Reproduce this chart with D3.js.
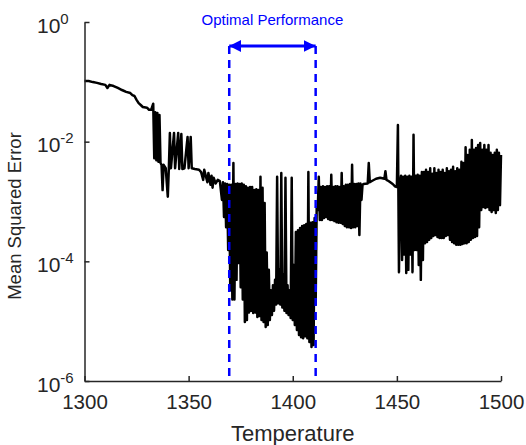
<!DOCTYPE html>
<html>
<head>
<meta charset="utf-8">
<script src="https://cdn.jsdelivr.net/npm/d3@7"></script>
<style>
  body { margin: 0; background: #fff; }
  svg text { font-family: "Liberation Sans", Arial, Helvetica, sans-serif; }
</style>
</head>
<body>
<div id="chart"></div>
<script>
// temperature / mean squared error
var temperature = [
  1300,1302,1304,1306,1308,1310,1311,1312,1314,1316,1318,1320,1322,1323,1324,1325,1326,1327,1328,1330,1331,1332,1333,1333.5,1334,1334.5,1335,1335.5,1336,1336.5,
  1337,1337.5,1338,1339,1340,1340.5,1341,1341.5,1343,1343.5,1345,1345.5,1346.5,1347,1348,1349.5,1350,1351,1351.5,
  1353,1355,1356,1357,1357.5,1358,1359,1359.5,1360.5,1361,1361.5,1362,1363,1364,1365,1366,1366.5,1367,1367.5,1368,1368.5,
  1369,1369.5,1370,1370.5,1371,1371.5,1372,1372.5,1373,1373.5,1374,1374.5,1375,1375.5,1376,1376.5,1377,1377.5,1378,1378.5,
  1379,1379.5,1380,1380.5,1381,1381.5,1382,1382.5,1383,1383.5,1384,1384.5,1385,1385.5,1386,1386.5,1387,1387.5,1388,1388.5,
  1389,1389.5,1390,1390.5,1391,1391.5,1392,1392.5,1393,1393.5,1394,1394.5,1395,1395.5,1396,1396.5,1397,1397.5,1398,1398.5,
  1399,1399.5,1400,1400.5,1401,1401.5,1402,1402.5,1403,1403.5,1404,1404.5,1405,1405.5,1406,1406.5,1407,1407.5,1408,1408.5,
  1409,1409.5,1410,1410.5,1411,1411.5,
  1412,1412.5,1413,1413.5,1414,1414.5,1415,1415.5,1416,1416.5,1417,1417.5,1418,1418.5,1419,1419.5,1420,1420.5,1421,1421.5,
  1422,1422.5,1423,1423.5,1424,1424.5,1425,1425.5,1426,1426.5,1427,1427.5,1428,1428.5,1429,1429.5,1430,1430.5,1431,1431.5,
  1432,1432.5,1433,1433.5,
  1434,1436,1436.5,1437,1438,1440,1442,1444,1444.5,1445,1446,1448,1449,1450,1450.5,1451,1451.5,
  1452,1452.5,1453,1453.5,1454,1454.5,1455,1455.5,1456,1456.5,1457,1457.5,1458,1458.5,1459,1459.5,1460,1460.5,1461,1461.5,
  1462,1462.5,1463,1463.5,1464,1464.5,1465,1465.5,1466,1466.5,1467,1467.5,1468,1468.5,1469,1469.5,1470,1470.5,1471,1471.5,
  1472,1472.5,1473,1473.5,1474,1474.5,1475,1475.5,1476,1476.5,1477,1477.5,1478,1478.5,1479,1479.5,1480,1480.5,1481,1481.5,
  1482,1482.5,1483,1483.5,1484,1484.5,1485,1485.5,1486,1486.5,1487,1487.5,1488,1488.5,1489,1489.5,1490,1490.5,1491,1491.5,
  1492,1492.5,1493,1493.5,1494,1494.5,1495,1495.5,1496,1496.5,1497,1497.5,1498,1498.5,1499,1499.5,1500
];
var mse = [
  1.03e-1,1.03e-1,9.9e-2,9.6e-2,9.2e-2,8.9e-2,7.9e-2,8.9e-2,8.5e-2,7.9e-2,7.3e-2,6.8e-2,6.5e-2,6.0e-2,5.8e-2,5.0e-2,4.4e-2,4.1e-2,3.8e-2,3.7e-2,3.4e-2,3.4e-2,4.3e-2,5.3e-3,3.1e-2,4.9e-3,3.0e-2,4.6e-3,2.8e-2,4.4e-3,
  4.1e-3,1.55e-3,4.1e-3,3.6e-3,1.2e-3,3.6e-3,1.4e-2,3.6e-3,1.4e-2,3.6e-3,1.4e-2,3.5e-3,1.34e-2,3.5e-3,3.6e-3,1.2e-2,3.6e-3,1.2e-2,3.6e-3,
  3.5e-3,3.4e-3,3.1e-3,2.3e-3,3.4e-3,2.9e-3,2.1e-3,3.0e-3,1.9e-3,2.7e-3,1.7e-3,2.5e-3,2.0e-3,2.3e-3,2.2e-3,1.06e-3,2.1e-3,5.5e-4,2.0e-3,3.7e-4,1.96e-3,
  1.55e-4,1.9e-3,3.3e-5,1.9e-3,2.3e-5,4.4e-3,2.3e-5,1.96e-3,4.9e-5,2.0e-3,9.4e-5,1.96e-3,3.7e-5,2.0e-3,2.3e-5,1.9e-3,9.7e-6,1.8e-3,1.05e-5,1.7e-3,
  1.4e-5,1.75e-3,1.5e-5,1.75e-3,1.37e-5,1.55e-3,1.4e-5,1.6e-3,1.17e-5,1.55e-3,1.22e-5,2.6e-3,1.05e-5,1.7e-3,9.7e-6,9.4e-4,8.0e-6,1.4e-4,8.6e-6,7.2e-5,
  1.05e-5,3.3e-5,1.27e-5,4.0e-5,1.5e-5,4.9e-5,1.9e-5,2.6e-3,2.0e-5,7.2e-5,1.9e-5,3.0e-3,1.7e-5,5.9e-5,1.5e-5,2.5e-3,1.37e-5,4.0e-5,1.27e-5,3.3e-5,
  1.13e-5,2.5e-3,1.05e-5,8.7e-5,8.6e-6,3.1e-4,7.1e-6,3.3e-4,5.9e-6,3.6e-4,5.4e-6,3.9e-4,5.2e-6,4.0e-4,5.6e-6,4.2e-4,5.2e-6,3.1e-3,4.5e-6,4.4e-4,
  3.7e-6,4.5e-4,4.0e-6,5.3e-4,1.9e-5,8.1e-4,
  7.2e-4,2.6e-3,4.9e-4,1.75e-3,4.9e-4,1.8e-3,5.3e-4,1.75e-3,5.5e-4,1.8e-3,5.1e-4,1.8e-3,4.9e-4,2.8e-3,4.9e-4,1.75e-3,4.7e-4,1.8e-3,4.5e-4,1.8e-3,
  4.4e-4,1.75e-3,4.4e-4,3.0e-3,4.2e-4,1.8e-3,3.9e-4,1.9e-3,3.7e-4,1.9e-3,3.7e-4,1.96e-3,3.6e-4,4.1e-3,3.7e-4,1.96e-3,3.7e-4,1.96e-3,3.9e-4,2.0e-3,
  2.75e-4,2.0e-3,1.06e-3,1.9e-3,
  1.96e-3,2.0e-3,4.4e-3,2.1e-3,2.2e-3,2.4e-3,2.5e-3,2.4e-3,3.2e-3,2.3e-3,2.2e-3,1.96e-3,1.8e-3,1.75e-3,1.9e-2,6.6e-5,1.9e-3,
  2.7e-3,1.05e-4,2.6e-3,1.3e-4,2.7e-3,6.4e-5,2.6e-3,7.2e-5,2.7e-3,1.3e-4,2.6e-3,6.6e-5,1.3e-2,1.55e-4,2.7e-3,1.55e-4,2.8e-3,8.7e-5,2.7e-3,4.9e-5,
  3.1e-3,1.05e-4,3.1e-3,2.0e-4,3.4e-3,2.1e-4,3.1e-3,2.3e-4,3.6e-3,2.45e-4,2.9e-3,2.65e-4,3.6e-3,2.75e-4,3.0e-3,2.55e-4,3.4e-3,2.45e-4,3.1e-3,2.45e-4,
  3.4e-3,2.45e-4,3.0e-3,2.65e-4,3.6e-3,2.75e-4,3.2e-3,2.3e-4,3.4e-3,2.1e-4,3.8e-3,2.0e-4,3.2e-3,1.9e-4,3.6e-3,1.9e-4,3.4e-3,1.9e-4,4.6e-3,1.95e-4,
  4.4e-3,2.0e-4,8.1e-3,2.0e-4,6.0e-3,2.1e-4,7.3e-3,2.3e-4,1.07e-2,2.45e-4,7.3e-3,2.55e-4,7.8e-3,2.65e-4,8.8e-3,3.7e-4,9.5e-3,7.2e-4,7.3e-3,8.1e-4,
  8.8e-3,7.8e-4,7.3e-3,8.1e-4,8.8e-3,7.2e-4,6.5e-3,6.7e-4,6.0e-3,7.2e-4,6.5e-3,6.4e-4,7.3e-3,7.2e-4,6.5e-3,8.7e-4,6.0e-3
];

var xTicks = [1300, 1350, 1400, 1450, 1500];
var yTickExponents = [0, -2, -4, -6];
var optimalRange = [1369.5, 1411];
var annotation = "Optimal Performance";
var xLabel = "Temperature";
var yLabel = "Mean Squared Error";

var width = 526, height = 445;
var plotLeft = 84.5, plotRight = 501, plotTop = 22, plotBottom = 381;
var axisColor = "#262626";

var data = temperature.map(function(t, i) {
  return { t: t, v: mse[i] };
});

var x = d3.scaleLinear().domain([1300, 1500]).range([plotLeft, plotRight]);
var y = d3.scaleLog().domain([1e-6, 1]).range([plotBottom, plotTop]);

var svg = d3.select("#chart").append("svg")
  .attr("width", width)
  .attr("height", height);

// series
var line = d3.line()
  .x(function(d) { return x(d.t); })
  .y(function(d) { return y(d.v); });

svg.append("path")
  .datum(data)
  .attr("d", line)
  .attr("fill", "none")
  .attr("stroke", "#000")
  .attr("stroke-width", 2.5)
  .attr("stroke-linejoin", "round");

// axes
var xAxis = svg.append("g")
  .attr("transform", "translate(0," + plotBottom + ")")
  .call(d3.axisBottom(x).tickValues(xTicks).tickSizeInner(-5).tickSizeOuter(0).tickFormat(d3.format("d")));

var yAxis = svg.append("g")
  .attr("transform", "translate(" + plotLeft + ",0)")
  .call(d3.axisLeft(y).tickValues(yTickExponents.map(function(e) { return Math.pow(10, e); }))
    .tickSizeInner(-5).tickSizeOuter(0).tickFormat(""));

[xAxis, yAxis].forEach(function(g) {
  g.select(".domain").attr("stroke", axisColor).attr("stroke-width", 1.5);
  g.selectAll(".tick line").attr("stroke", axisColor).attr("stroke-width", 1.5);
});

xAxis.selectAll(".tick text")
  .attr("y", 28)
  .attr("dy", null)
  .attr("fill", axisColor)
  .attr("font-size", 20.5);

yTickExponents.forEach(function(e) {
  var t = svg.append("text")
    .attr("x", 37)
    .attr("y", y(Math.pow(10, e)) + 10.5)
    .attr("fill", axisColor)
    .attr("font-size", 21);
  t.append("tspan").text("10");
  t.append("tspan").attr("dy", -9).attr("font-size", 15).text(e === 0 ? "0" : "-" + Math.abs(e));
});

svg.append("text")
  .attr("x", (plotLeft + plotRight) / 2)
  .attr("y", 441)
  .attr("text-anchor", "middle")
  .attr("fill", axisColor)
  .attr("font-size", 22)
  .text(xLabel);

svg.append("text")
  .attr("transform", "translate(21,216) rotate(-90)")
  .attr("text-anchor", "middle")
  .attr("fill", axisColor)
  .attr("font-size", 18.5)
  .text(yLabel);

// optimal region markers
var blue = "#0000ff";
var arrowY = 46;

optimalRange.forEach(function(t) {
  svg.append("line")
    .attr("x1", x(t)).attr("x2", x(t))
    .attr("y1", arrowY).attr("y2", plotBottom - 2)
    .attr("stroke", blue)
    .attr("stroke-width", 2.5)
    .attr("stroke-dasharray", "8,6");
});

var defs = svg.append("defs");
defs.append("marker")
  .attr("id", "head")
  .attr("viewBox", "0 0 10 10")
  .attr("refX", 10).attr("refY", 5)
  .attr("markerWidth", 4).attr("markerHeight", 4)
  .attr("markerUnits", "strokeWidth")
  .attr("orient", "auto-start-reverse")
  .append("path")
  .attr("d", "M0,0 L10,5 L0,10 z")
  .attr("fill", blue);

svg.append("line")
  .attr("x1", x(optimalRange[0])).attr("x2", x(optimalRange[1]))
  .attr("y1", arrowY).attr("y2", arrowY)
  .attr("stroke", blue)
  .attr("stroke-width", 3)
  .attr("marker-start", "url(#head)")
  .attr("marker-end", "url(#head)");

svg.append("text")
  .attr("x", (x(optimalRange[0]) + x(optimalRange[1])) / 2)
  .attr("y", 25)
  .attr("text-anchor", "middle")
  .attr("fill", blue)
  .attr("font-size", 15)
  .text(annotation);
</script>
</body>
</html>
